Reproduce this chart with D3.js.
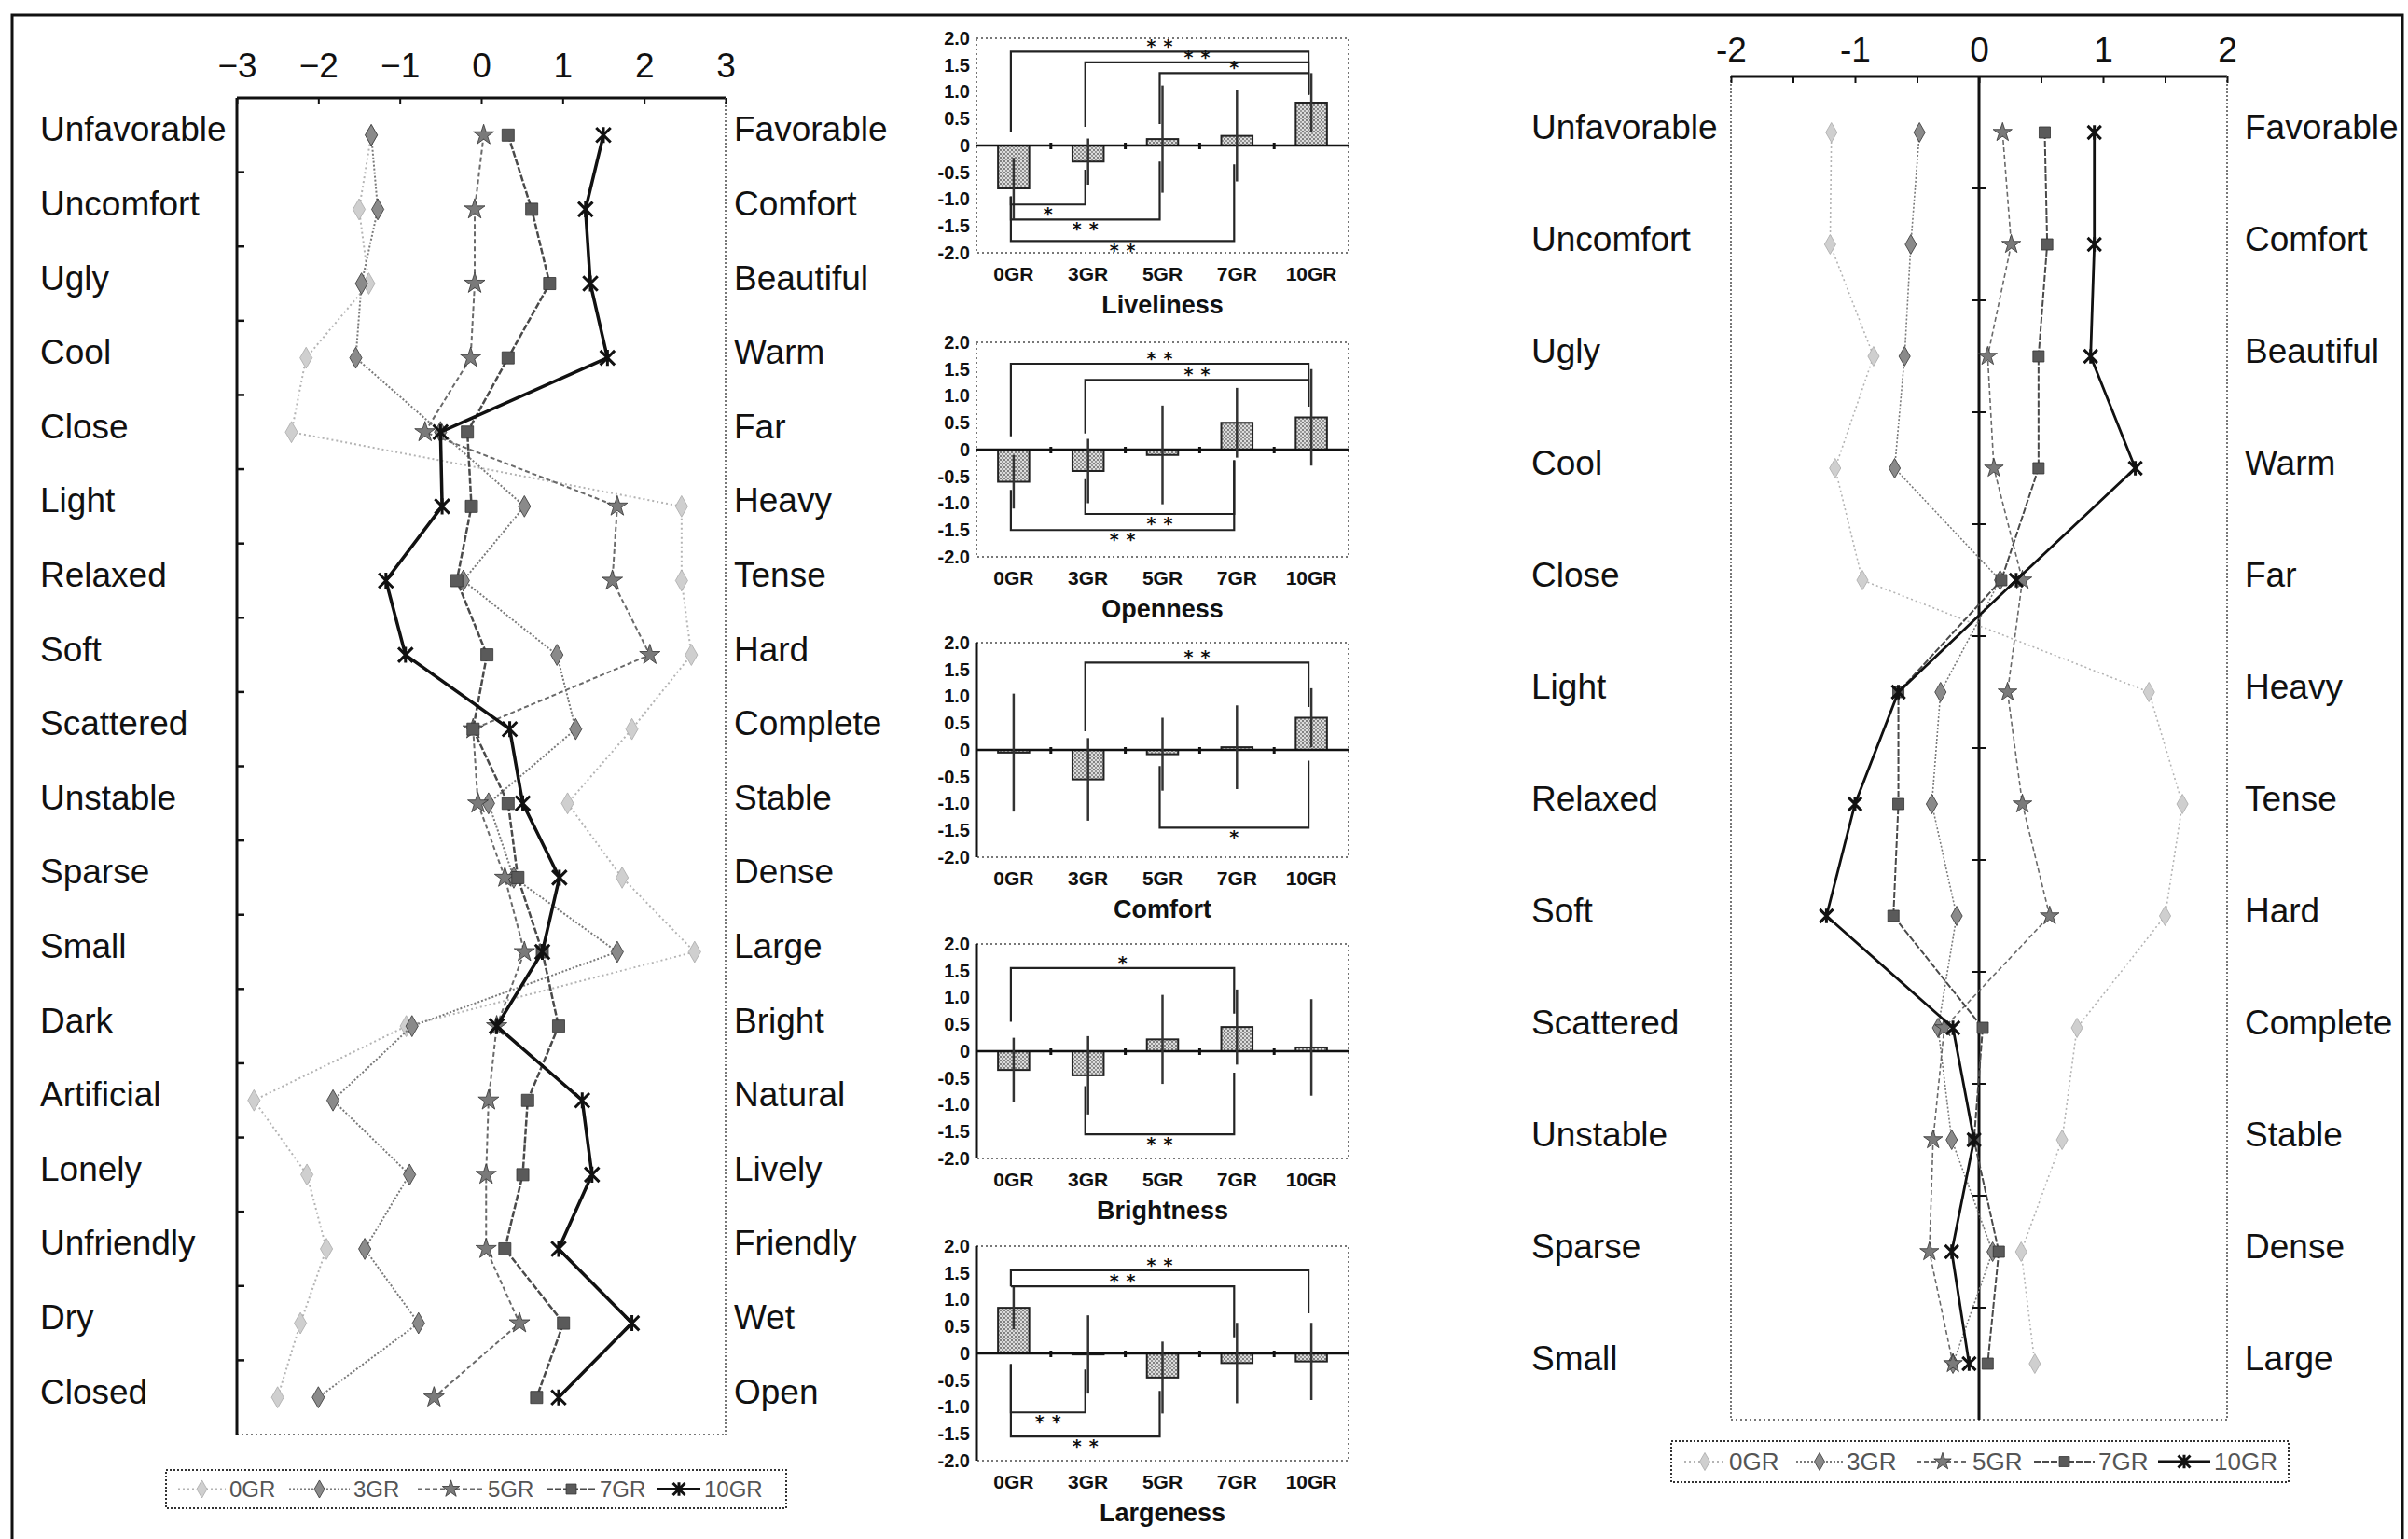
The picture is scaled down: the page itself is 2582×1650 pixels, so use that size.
<!DOCTYPE html>
<html><head><meta charset="utf-8">
<script src="https://cdn.jsdelivr.net/npm/d3@7"></script>
<style>body{margin:0;background:#fff}svg{display:block}</style>
</head><body>
<svg id="c" width="2582" height="1650"></svg>
<script>
// ---------------- DATA ----------------
const groups = ["0GR","3GR","5GR","7GR","10GR"];

// Left semantic-differential profile
const leftNeg = ["Unfavorable","Uncomfort","Ugly","Cool","Close","Light","Relaxed","Soft","Scattered","Unstable","Sparse","Small","Dark","Artificial","Lonely","Unfriendly","Dry","Closed"];
const leftPos = ["Favorable","Comfort","Beautiful","Warm","Far","Heavy","Tense","Hard","Complete","Stable","Dense","Large","Bright","Natural","Lively","Friendly","Wet","Open"];
const left0GR  = [-1.35,-1.50,-1.38,-2.15,-2.33, 2.46, 2.46, 2.58, 1.85, 1.06, 1.73, 2.62,-0.92,-2.79,-2.14,-1.90,-2.22,-2.50];
const left3GR  = [-1.35,-1.27,-1.47,-1.54,-0.50, 0.53,-0.22, 0.93, 1.16, 0.09, 0.40, 1.67,-0.85,-1.82,-0.88,-1.43,-0.77,-2.00];
const left5GR  = [ 0.03,-0.08,-0.08,-0.13,-0.69, 1.67, 1.61, 2.07,-0.10,-0.04, 0.29, 0.53, 0.19, 0.09, 0.06, 0.06, 0.47,-0.58];
const left7GR  = [ 0.33, 0.62, 0.84, 0.33,-0.17,-0.12,-0.30, 0.07,-0.10, 0.33, 0.45, 0.75, 0.95, 0.57, 0.51, 0.29, 1.01, 0.68];
const left10GR = [ 1.50, 1.28, 1.34, 1.55,-0.50,-0.48,-1.17,-0.93, 0.35, 0.51, 0.96, 0.75, 0.19, 1.24, 1.36, 0.95, 1.85, 0.95];
const leftTicks = [-3,-2,-1,0,1,2,3];

// Right semantic-differential profile
const rightNeg = ["Unfavorable","Uncomfort","Ugly","Cool","Close","Light","Relaxed","Soft","Scattered","Unstable","Sparse","Small"];
const rightPos = ["Favorable","Comfort","Beautiful","Warm","Far","Heavy","Tense","Hard","Complete","Stable","Dense","Large"];
const right0GR  = [-1.19,-1.20,-0.85,-1.16,-0.94, 1.37, 1.64, 1.50, 0.79, 0.67, 0.34, 0.45];
const right3GR  = [-0.48,-0.55,-0.60,-0.68, 0.17,-0.31,-0.38,-0.18,-0.33,-0.22, 0.11,-0.21];
const right5GR  = [ 0.19, 0.26, 0.07, 0.12, 0.35, 0.23, 0.35, 0.57,-0.28,-0.37,-0.40,-0.21];
const right7GR  = [ 0.53, 0.55, 0.48, 0.48, 0.18,-0.65,-0.65,-0.69, 0.03,-0.04, 0.16, 0.07];
const right10GR = [ 0.93, 0.93, 0.90, 1.26, 0.30,-0.65,-1.00,-1.23,-0.21,-0.04,-0.22,-0.08];
const rightTicks = [-2,-1.5,-1,-0.5,0,0.5,1,1.5,2];
const rightTickLabels = [-2,-1,0,1,2];

// Bar charts (mean, SD, significance brackets)
const barTitles = ["Liveliness","Openness","Comfort","Brightness","Largeness"];
const barTicks = [2,1.5,1,0.5,0,-0.5,-1,-1.5,-2];
const livelinessMean = [-0.80,-0.30, 0.12, 0.18, 0.80];
const livelinessSD   = [ 0.57, 0.43, 1.00, 0.85, 0.55];
const opennessMean   = [-0.60,-0.40,-0.10, 0.50, 0.60];
const opennessSD     = [ 0.50, 0.60, 0.92, 0.65, 0.90];
const comfortMean    = [-0.05,-0.55,-0.08, 0.05, 0.60];
const comfortSD      = [ 1.10, 0.77, 0.68, 0.78, 0.55];
const brightnessMean = [-0.35,-0.45, 0.22, 0.45, 0.07];
const brightnessSD   = [ 0.60, 0.73, 0.83, 0.70, 0.90];
const largenessMean  = [ 0.85,-0.02,-0.45,-0.18,-0.15];
const largenessSD    = [ 0.40, 0.73, 0.67, 0.75, 0.72];
// [groupA, groupB, bracket level, leg end A, leg end B, mark]
const livelinessSig = [["0GR","10GR",1.75,0.25,0.95,"**"],["3GR","10GR",1.55,0.35,0.95,"**"],["5GR","10GR",1.35,0.40,0.95,"*"],
                       ["0GR","3GR",-1.10,-0.95,-0.45,"*"],["0GR","5GR",-1.38,-0.95,-0.30,"**"],["0GR","7GR",-1.78,-0.95,-0.35,"**"]];
const opennessSig   = [["0GR","10GR",1.60,0.25,0.80,"**"],["3GR","10GR",1.30,0.30,0.80,"**"],
                       ["3GR","7GR",-1.20,-0.55,-0.20,"**"],["0GR","7GR",-1.50,-0.75,-0.20,"**"]];
const comfortSig    = [["3GR","10GR",1.63,0.35,0.80,"**"],["5GR","10GR",-1.45,-0.30,-0.20,"*"]];
const brightnessSig = [["0GR","7GR",1.55,0.55,0.70,"*"],["3GR","7GR",-1.55,-0.65,-0.40,"**"]];
const largenessSig  = [["0GR","10GR",1.55,1.25,0.75,"**"],["0GR","7GR",1.25,1.25,0.30,"**"],
                       ["0GR","3GR",-1.10,-0.20,-0.30,"**"],["0GR","5GR",-1.55,-0.20,-0.70,"**"]];

// ---------------- STYLE / LAYOUT ----------------
const FONT = "'Liberation Sans', Arial, sans-serif";
const svg = d3.select("#c");
const defs = svg.append("defs");
const pat = defs.append("pattern").attr("id","stip").attr("patternUnits","userSpaceOnUse").attr("width",4).attr("height",4);
pat.append("rect").attr("width",4).attr("height",4).attr("fill","#dcdcdc");
pat.append("circle").attr("cx",1).attr("cy",1).attr("r",0.9).attr("fill","#555");
pat.append("circle").attr("cx",3).attr("cy",3).attr("r",0.9).attr("fill","#777");

const sStyle = {
  "0GR":  {stroke:"#b4b4b4", w:2,   dash:"2,3", sym:d3.symbolDiamond, fill:"#cfcfcf", size:150},
  "3GR":  {stroke:"#7a7a7a", w:2,   dash:"2,2", sym:d3.symbolDiamond, fill:"#8a8a8a", size:150},
  "5GR":  {stroke:"#6a6a6a", w:2,   dash:"5,3", sym:d3.symbolStar,    fill:"#7a7a7a", size:150},
  "7GR":  {stroke:"#4a4a4a", w:2.5, dash:"7,2", sym:d3.symbolSquare,  fill:"#5a5a5a", size:170},
  "10GR": {stroke:"#111",    w:3.5, dash:null,  sym:null,             fill:"none",    size:240}
};
const timesPath = s => { const r = Math.sqrt(s)/2; return `M${-r},${-r}L${r},${r}M${-r},${r}L${r},${-r}M0,${-r*1.1}V${r*1.1}`; };

function marker(g, grp, cx, cy, scale) {
  const st = sStyle[grp];
  const sz = st.size * (scale||1);
  if (st.sym) {
    g.append("path").attr("d", d3.symbol().type(st.sym).size(sz)()).attr("transform",`translate(${cx},${cy})`)
      .attr("fill", st.fill).attr("stroke", grp==="0GR" ? "#aaa" : "#333").attr("stroke-width",0.8);
  } else {
    g.append("path").attr("d", timesPath(sz)).attr("transform",`translate(${cx},${cy})`)
      .attr("fill","none").attr("stroke","#111").attr("stroke-width",3);
  }
}

// outer frame
svg.append("path").attr("d","M13,1650V16H2576V1650").attr("fill","none").attr("stroke","#111").attr("stroke-width",3);

// ---------------- PROFILE PANELS ----------------
function profile(o) {
  const g = svg.append("g");
  const x = d3.scaleLinear().domain(o.domain).range(o.xr);
  const y = d3.scaleBand().domain(o.neg).range(o.yr);
  const bw = y.bandwidth();
  const [x0,x1] = o.xr, [y0,y1] = o.yr;
  // frame
  g.append("line").attr("x1",x0).attr("x2",x1).attr("y1",y0).attr("y2",y0).attr("stroke","#111").attr("stroke-width",3);
  g.append("line").attr("x1",x1).attr("x2",x1).attr("y1",y0).attr("y2",y1).attr("stroke","#777").attr("stroke-width",2).attr("stroke-dasharray","2,2");
  g.append("line").attr("x1",x0).attr("x2",x1).attr("y1",y1).attr("y2",y1).attr("stroke","#777").attr("stroke-width",2).attr("stroke-dasharray","2,3");
  g.append("line").attr("x1",x0).attr("x2",x0).attr("y1",y0).attr("y2",y1)
    .attr("stroke", o.leftSolid ? "#111" : "#777").attr("stroke-width", o.leftSolid ? 3 : 2).attr("stroke-dasharray", o.leftSolid ? null : "2,2");
  // top axis
  const ax = d3.axisTop(x).tickValues(o.ticks).tickSizeInner(-7).tickSizeOuter(0).tickPadding(o.pad)
    .tickFormat(d => o.labels.includes(d) ? o.fmt(d) : "");
  const axg = g.append("g").attr("transform",`translate(0,${y0})`).call(ax);
  axg.select(".domain").remove();
  axg.selectAll("line").attr("stroke","#111").attr("stroke-width",2);
  axg.selectAll("text").attr("font-size",37).attr("font-family",FONT).attr("fill","#111");
  // row boundary ticks
  const bounds = o.neg.slice(1).map(d => y(d));
  if (o.zeroLine) {
    g.append("line").attr("x1",x(0)).attr("x2",x(0)).attr("y1",y0).attr("y2",y1).attr("stroke","#111").attr("stroke-width",3);
    g.selectAll(".zt").data(bounds).join("line").attr("x1",x(0)-7).attr("x2",x(0)+7).attr("y1",d=>d).attr("y2",d=>d).attr("stroke","#111").attr("stroke-width",2);
  } else {
    g.selectAll(".lt").data(bounds).join("line").attr("x1",x0).attr("x2",x0+8).attr("y1",d=>d).attr("y2",d=>d).attr("stroke","#111").attr("stroke-width",2.5);
  }
  // labels
  g.selectAll(".ln").data(o.neg).join("text").attr("x",o.lx).attr("y",d=>y(d)+bw/2-6).attr("dominant-baseline","central")
    .attr("font-size",37).attr("font-family",FONT).attr("fill","#111").text(d=>d);
  g.selectAll(".rn").data(o.pos).join("text").attr("x",o.rx).attr("y",(d,i)=>y(o.neg[i])+bw/2-6).attr("dominant-baseline","central")
    .attr("font-size",37).attr("font-family",FONT).attr("fill","#111").text(d=>d);
  // series
  const line = d3.line().x(d=>x(d[1])).y(d=>y(d[0])+bw/2);
  groups.forEach((grp,k) => {
    const vals = o.series[k];
    const pts = o.neg.map((c,i)=>[c, vals[i]]);
    const st = sStyle[grp];
    g.append("path").attr("d", line(pts)).attr("fill","none").attr("stroke",st.stroke)
      .attr("stroke-width", st.w*(o.wScale||1)).attr("stroke-dasharray",st.dash).attr("stroke-linejoin","round");
    pts.forEach(p => marker(g, grp, x(p[1]), y(p[0])+bw/2, o.mScale));
  });
}

profile({domain:[-3,3], xr:[254,778], yr:[105,1538], neg:leftNeg, pos:leftPos,
  series:[left0GR,left3GR,left5GR,left7GR,left10GR], ticks:leftTicks, labels:leftTicks,
  fmt:d => d<0 ? "\u2212"+(-d) : String(d), pad:22, lx:43, rx:787, leftSolid:true, zeroLine:false});

profile({domain:[-2,2], xr:[1856,2388], yr:[82,1522], neg:rightNeg, pos:rightPos,
  series:[right0GR,right3GR,right5GR,right7GR,right10GR], ticks:rightTicks, labels:rightTickLabels,
  fmt:d => String(d), pad:16, lx:1642, rx:2407, leftSolid:false, zeroLine:true, wScale:0.8, mScale:0.85});

// ---------------- LEGENDS ----------------
function legend(box, items, fs) {
  const g = svg.append("g");
  g.append("rect").attr("x",box[0]).attr("y",box[1]).attr("width",box[2]-box[0]).attr("height",box[3]-box[1])
    .attr("fill","none").attr("stroke","#333").attr("stroke-width",2).attr("stroke-dasharray","2,2");
  const cy = (box[1]+box[3])/2;
  groups.forEach((grp,k) => {
    const [a,b] = items[k], st = sStyle[grp];
    g.append("line").attr("x1",a).attr("x2",b).attr("y1",cy).attr("y2",cy).attr("stroke",st.stroke)
      .attr("stroke-width",st.w*0.9).attr("stroke-dasharray",st.dash);
    marker(g, grp, (a+b)/2, cy, 0.7);
    g.append("text").attr("x",b+4).attr("y",cy).attr("dominant-baseline","central").attr("font-size",fs)
      .attr("font-family",FONT).attr("fill","#555").text(grp);
  });
}
legend([178,1576,843,1617], [[191,242],[310,375],[448,519],[586,639],[705,751]], 24);
legend([1792,1545,2454,1589], [[1806,1850],[1926,1976],[2055,2111],[2181,2246],[2314,2370]], 26);

// ---------------- BAR CHARTS ----------------
const barMeans = [livelinessMean, opennessMean, comfortMean, brightnessMean, largenessMean];
const barSDs = [livelinessSD, opennessSD, comfortSD, brightnessSD, largenessSD];
const barSigs = [livelinessSig, opennessSig, comfortSig, brightnessSig, largenessSig];
const barTops = [41,367,689,1012,1336];
const barH = 230, bx0 = 1047, bx1 = 1446;

barTitles.forEach((title,i) => {
  const top = barTops[i], bottom = top + barH;
  const g = svg.append("g");
  const y = d3.scaleLinear().domain([-2,2]).range([bottom, top]);
  const x = d3.scaleBand().domain(groups).range([bx0,bx1]);
  const cx = d => x(d) + x.bandwidth()/2;
  const w = x.bandwidth()*0.42;
  const means = barMeans[i], sds = barSDs[i];

  g.append("rect").attr("x",bx0).attr("y",top).attr("width",bx1-bx0).attr("height",barH)
    .attr("fill","none").attr("stroke","#777").attr("stroke-width",2).attr("stroke-dasharray","2,3");
  if (i >= 2) g.append("line").attr("x1",bx0).attr("x2",bx0).attr("y1",top).attr("y2",bottom).attr("stroke","#111").attr("stroke-width",3);

  const ya = d3.axisLeft(y).tickValues(barTicks).tickSize(0).tickPadding(7).tickFormat(d => d===0 ? "0" : d.toFixed(1));
  const yg = g.append("g").attr("transform",`translate(${bx0},0)`).call(ya);
  yg.select(".domain").remove();
  yg.selectAll("text").attr("font-size",20).attr("font-weight","bold").attr("font-family",FONT).attr("fill","#111");

  // bars
  g.selectAll(".bar").data(groups).join("rect")
    .attr("x", d => cx(d) - w/2)
    .attr("y", (d,j) => y(Math.max(0, means[j])))
    .attr("width", w)
    .attr("height", (d,j) => Math.abs(y(means[j]) - y(0)))
    .attr("fill","url(#stip)").attr("stroke","#222").attr("stroke-width",2);

  // zero line with small ticks
  g.append("line").attr("x1",bx0).attr("x2",bx1).attr("y1",y(0)).attr("y2",y(0)).attr("stroke","#111").attr("stroke-width",2.5);
  g.selectAll(".zt").data(groups.slice(1)).join("line").attr("x1",d=>x(d)).attr("x2",d=>x(d))
    .attr("y1",y(0)-3).attr("y2",y(0)+4).attr("stroke","#111").attr("stroke-width",3);

  // error bars
  g.selectAll(".err").data(groups).join("line")
    .attr("x1", d => cx(d)).attr("x2", d => cx(d))
    .attr("y1", (d,j) => y(means[j] + sds[j])).attr("y2", (d,j) => y(means[j] - sds[j]))
    .attr("stroke","#333").attr("stroke-width",2.5);

  // significance brackets
  barSigs[i].forEach(s => {
    const [a,b,lv,ea,eb,t] = s;
    const xa = cx(a) - 3, xb = cx(b) - 3;
    g.append("path").attr("d",`M${xa},${y(ea)}V${y(lv)}H${xb}V${y(eb)}`).attr("fill","none")
      .attr("stroke","#222").attr("stroke-width",2.2);
    const up = lv > 0;
    g.append("text").attr("x",(xa+xb)/2 + 4).attr("y", up ? y(lv)+1 : y(lv)+17).attr("text-anchor","middle")
      .attr("font-size",19).attr("font-weight","bold").attr("letter-spacing",8).attr("font-family","'DejaVu Sans', sans-serif")
      .attr("fill","#111").text(t);
  });

  // x labels and title
  g.selectAll(".xl").data(groups).join("text").attr("x",cx).attr("y",bottom+22).attr("dominant-baseline","central")
    .attr("text-anchor","middle").attr("font-size",21).attr("font-weight","bold").attr("font-family",FONT).attr("fill","#111").text(d=>d);
  g.append("text").attr("x",(bx0+bx1)/2).attr("y",bottom+56).attr("dominant-baseline","central").attr("text-anchor","middle")
    .attr("font-size",27).attr("font-weight","bold").attr("font-family",FONT).attr("fill","#111").text(title);
});
</script>
</body></html>
